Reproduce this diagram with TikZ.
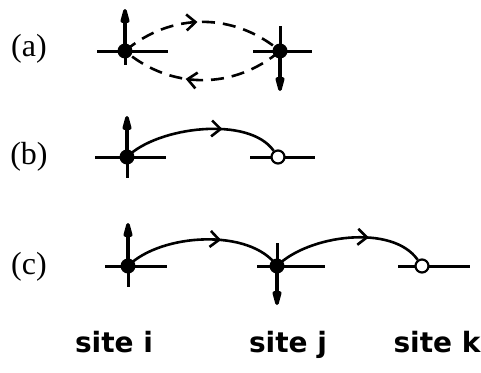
\documentclass[tikz,border=0pt]{standalone}
\usepackage{fontspec}
\setmainfont{Liberation Serif}
\newfontfamily\sitefont{DejaVu Sans}
\usetikzlibrary{arrows.meta,decorations.markings}
\tikzset{
  site/.style={circle,fill=black,inner sep=0pt,minimum size=15pt},
  hole/.style={circle,draw=black,fill=white,line width=2.2pt,inner sep=0pt,minimum size=13pt},
  bar/.style={line width=3pt},
  spin/.style={line width=3.5pt,-{Triangle[length=20pt,width=9pt,round]}},
  hop/.style={line width=2.6pt,postaction={decorate},
    decoration={markings,mark=at position #1 with {\arrow{Straight Barb[length=9pt,width=16pt,line width=2.6pt]}}}},
  dhop/.style={hop=#1,dash pattern=on 13pt off 8pt},
  rowlab/.style={font=\fontsize{32}{34}\selectfont},
  sitelab/.style={anchor=base,font=\sitefont\bfseries\fontsize{28}{30}\selectfont}
}
\begin{document}
\begin{tikzpicture}[x=1pt,y=1pt]
\useasboundingbox (0,0) rectangle (481,-372);
% row labels
\node[rowlab] (la) at (29,-49) {(a)};
\node[rowlab] (lb) at (29,-157) {(b)};
\node[rowlab] (lc) at (29,-267) {(c)};
% ---- row (a)
\coordinate (ai) at (125,-51);
\coordinate (aj) at (280,-51);
\draw[bar] ([xshift=-28pt]ai) -- ([xshift=43pt]ai);
\draw[bar] (ai) -- ([yshift=-14pt]ai);
\draw[bar] ([xshift=-27pt]aj) -- ([xshift=32pt]aj);
\draw[bar] (aj) -- ([yshift=25pt]aj);
\draw[dhop=0.47] (ai) to[out=40,in=140] (aj);
\draw[dhop=0.6] (aj) to[out=-140,in=-40] (ai);
\node[site] (nai) at (ai) {};
\node[site] (naj) at (aj) {};
\draw[spin] (nai.center) -- ([yshift=42pt]nai.center);
\draw[spin] (naj.center) -- ([yshift=-40pt]naj.center);
% ---- row (b)
\coordinate (bi) at (127,-157);
\coordinate (bk) at (278,-157);
\draw[bar] ([xshift=-32pt]bi) -- ([xshift=39pt]bi);
\draw[bar] (bi) -- ([yshift=-21pt]bi);
\draw[bar] ([xshift=-28pt]bk) -- ([xshift=37pt]bk);
\node[site] (nbi) at (bi) {};
\node[hole] (nbk) at (bk) {};
\draw[hop=0.64] (nbi.center) to[out=45,in=125,looseness=0.75] (nbk);
\draw[spin] (nbi.center) -- ([yshift=41pt]nbi.center);
% ---- row (c)
\coordinate (ci) at (128,-266);
\coordinate (cj) at (277,-266);
\coordinate (ck) at (422,-266);
\draw[bar] ([xshift=-23pt]ci) -- ([xshift=39pt]ci);
\draw[bar] (ci) -- ([yshift=-21pt]ci);
\draw[bar] ([xshift=-20pt]cj) -- ([xshift=48pt]cj);
\draw[bar] (cj) -- ([yshift=23pt]cj);
\draw[bar] ([xshift=-24pt]ck) -- ([xshift=48pt]ck);
\node[site] (nci) at (ci) {};
\node[site] (ncj) at (cj) {};
\node[hole] (nck) at (ck) {};
\draw[hop=0.61] (nci.center) to[out=45,in=125,looseness=0.8] (ncj.center);
\draw[hop=0.64] (ncj.center) to[out=45,in=125,looseness=0.8] (nck);
\draw[spin] (nci.center) -- ([yshift=43pt]nci.center);
\draw[spin] (ncj.center) -- ([yshift=-39pt]ncj.center);
% site labels
\node[sitelab] (si) at (114,-352) {site i};
\node[sitelab] (sj) at (288,-352) {site j};
\node[sitelab] (sk) at (437,-352) {site k};
\end{tikzpicture}
\end{document}
